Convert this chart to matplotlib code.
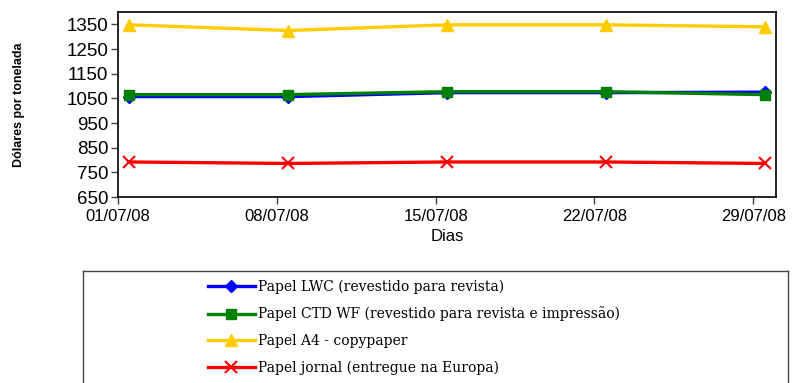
import numpy as np
import matplotlib.pyplot as plt
import matplotlib.dates as mdates

# weekly prices, dollars per tonne
dias = np.array(['2008-07-01', '2008-07-08', '2008-07-15', '2008-07-22', '2008-07-29'],
                dtype='datetime64[D]')
papel_lwc = [1057, 1057, 1073, 1073, 1075]
papel_ctd = [1065, 1065, 1077, 1077, 1065]
papel_a4 = [1348, 1325, 1348, 1348, 1340]
papel_jornal = [792, 786, 792, 792, 786]

nomes = ['Papel LWC (revestido para revista)',
         'Papel CTD WF (revestido para revista e impressão)',
         'Papel A4 - copypaper',
         'Papel jornal (entregue na Europa)']

plt.rcParams['font.family'] = ['Liberation Sans', 'DejaVu Sans']

fig = plt.figure(figsize=(8.05, 3.83), dpi=100)
ax = fig.add_axes([118 / 805, 1 - 197 / 383, (776 - 118) / 805, (197 - 12) / 383])

# points sit in the middle of each day, like a date axis in a spreadsheet
x = dias.astype('datetime64[h]') + np.timedelta64(12, 'h')

lw = 2.4
l1, = ax.plot(x, papel_lwc, color='#0000FF', lw=lw, marker='D', ms=6)
l2, = ax.plot(x, papel_ctd, color='#008000', lw=lw, marker='s', ms=7)
l3, = ax.plot(x, papel_a4, color='#FFCC00', lw=lw, marker='^', ms=8)
l4, = ax.plot(x, papel_jornal, color='#FF0000', lw=lw, marker='x', ms=9, mew=1.5)

ax.set_xlim(dias[0], dias[-1] + np.timedelta64(1, 'D'))
ax.set_xticks(dias)
ax.xaxis.set_major_formatter(mdates.DateFormatter('%d/%m/%y'))
ax.set_ylim(650, 1400)
ax.set_yticks(np.arange(650, 1351, 100))

for s in ax.spines.values():
    s.set_linewidth(1.2)
    s.set_color('black')
ax.tick_params(axis='both', labelsize=12, length=5, width=1, colors='#444444', labelcolor='black')
ax.tick_params(axis='y', labelsize=13.5, pad=2)

ax.set_xlabel('Dias', fontsize=12, labelpad=4)
ax.set_ylabel('Dólares por tonelada', fontsize=9, fontweight='bold')
ax.yaxis.set_label_coords(-(118 - 25) / 658, 0.5)

# legend box below the plot
lax = fig.add_axes([83 / 805, -0.02, (788 - 83) / 805, 1 - 271 / 383 + 0.02])
lax.set_xticks([])
lax.set_yticks([])
for s in lax.spines.values():
    s.set_linewidth(1.0)
    s.set_color('#444444')
lax.legend([l1, l2, l3, l4], nomes, loc='upper left',
           bbox_to_anchor=((208 - 83) / 705 - 0.012, 1.0),
           frameon=False, handlelength=3.4, handletextpad=0.2,
           labelspacing=0.92, borderaxespad=0.2,
           prop={'family': 'DejaVu Serif', 'size': 10})

fig.savefig('out.png', dpi=100)
